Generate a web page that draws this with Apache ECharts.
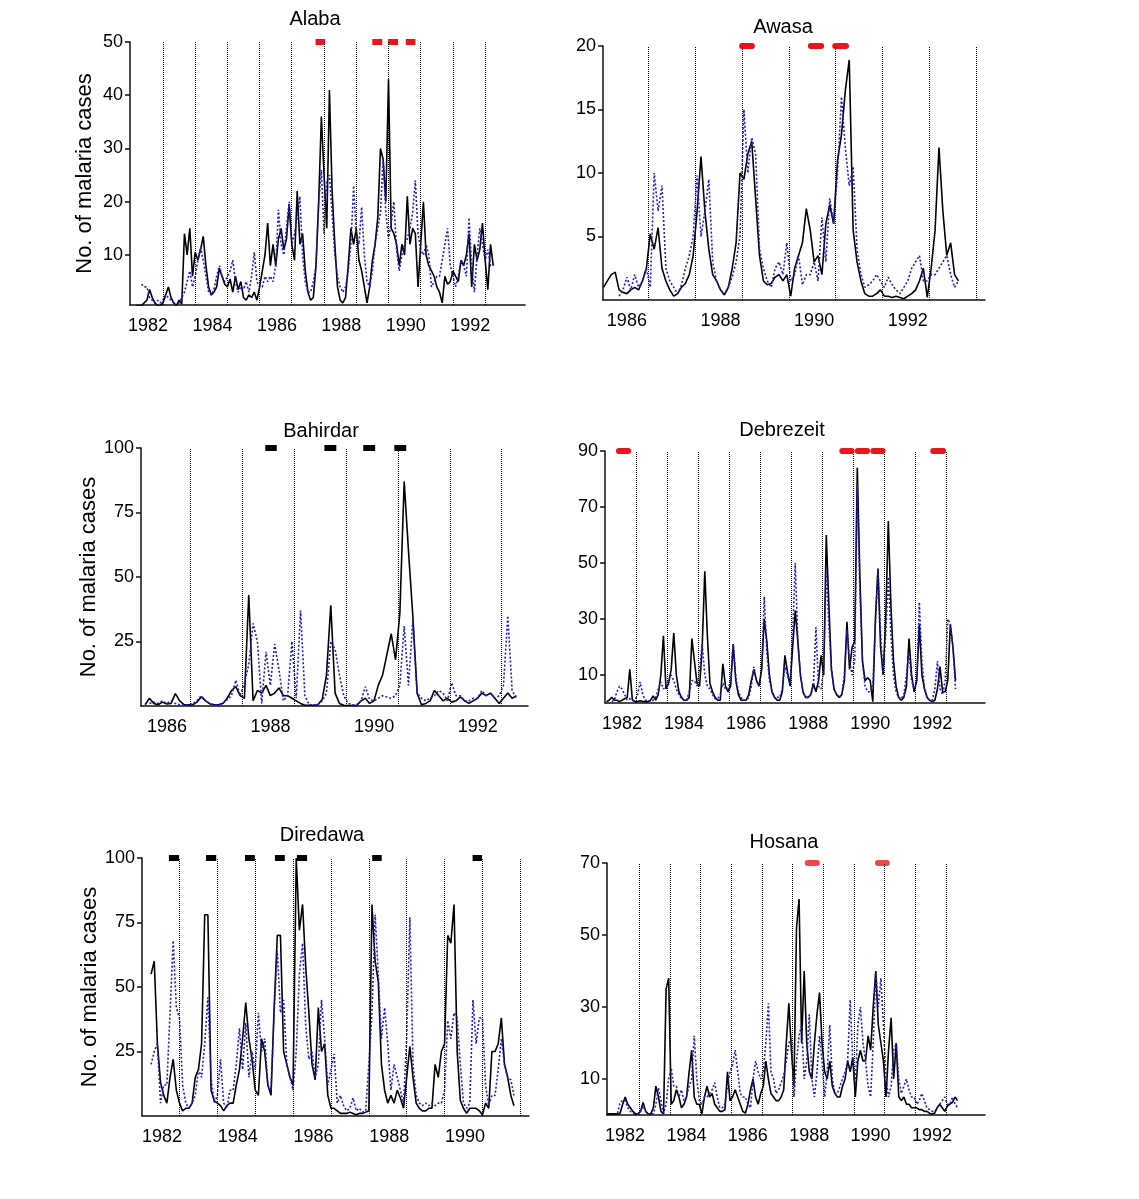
<!DOCTYPE html>
<html>
<head>
<meta charset="utf-8">
<script src="https://cdn.jsdelivr.net/npm/echarts@6/dist/echarts.min.js"></script>
<style>
  html, body { margin: 0; background: #fff; }
  #chart { width: 1139px; height: 1199px; }
</style>
</head>
<body>
<div id="chart"></div>
<script>
// monthly series, observed (black) and predicted (blue dotted)
var STEP = 1 / 12;

var alabaStart = 1981.63;
var alabaObs = [0.5,0.5,0.5,1,1.5, 3.5,2,1,0.5,0.5, 1,2.5,4,2,1, 0.5,1.5,0.8,14,10,
  15,6,10.5,9,11, 13.5,8,4,2.5,3, 4,7.5,6,4.5,4, 5.5,3,6,3.5,5,
  2,1.5,2.5,2,3, 1.5,4,7,10,16, 8,12,8,13,15, 11,13,19.5,12,9,
  22,12,14,7,3, 1.5,2,8,20,36, 25,15,41,22,12, 4,1.5,1,2,8,
  15,12,15,9,7, 4,1,4,9,12, 17,30,28,20,43, 15,14,12,8,12,
  10,21,12,15,14, 4,12,20,10,8, 7,6,4,3,1, 6,4.5,5,7,6,
  5,9,8,10,14, 4,12,9,11,16, 9,3.5,12,8];
var alabaPred = [null,null,4.5,4,4, 2,1.5,1,1.5,1, 1.5,2.5,2,1.5,1, 0.5,1,2,3,5,
  7,4,6,9,11.5, 9,6,3,2.5,3.5, 6,8,6,5,6, 7,9,5,3,4,
  3.5,5,3,6,10.5, 5,4,4,6,5, 6,5,8,18.5,12, 10,15,20,12,14,
  17,21,10,5,3, 3,5,8,20,26, 14,24,25,18,10, 6,4,3,4,7,
  12,23,14,12,19, 10,5,4,7,12, 15,18,28,18,13, 16,20,11,7,10,
  12,13,15,18,24, 14,11,10,12,10, 4,5,6,6,9, 12,15,8,6,4,
  6,9,8,6,17, 8,3,10,15,12, 9,11,8,8];
var alabaEpi = [[1987.2, 1987.5], [1988.96, 1989.27], [1989.45, 1989.76], [1990.0, 1990.3]];
var alabaTicks = [10, 20, 30, 40, 50];

var awasaStart = 1985.5;
var awasaObs = [1.0,1.5,2.0,2.2,0.8, 0.6,0.5,0.8,1.0,0.8, 1.5,2.5,5.2,4.0,5.7, 2.5,1.5,0.8,0.3,0.5,
  1.0,1.3,2.0,3.5,7.0, 11.3,7.0,4.0,2.0,1.5, 0.8,0.4,1.0,2.5,4.5, 10.0,9.5,11.5,12.5,8.0,
  3.5,1.5,1.2,1.3,1.8, 2.0,1.5,2.0,0.3,2.5, 3.5,4.5,7.2,5.5,3.0, 3.5,2.0,6.0,7.5,6.0,
  11.0,13.0,16.5,18.9,5.5, 3.0,1.5,0.5,0.3,0.3, 0.5,0.8,0.3,0.3,0.2, 0.3,0.2,0.1,0.3,0.5,
  0.8,1.5,2.5,0.2,2.5, 5.5,12.0,7.0,3.5,4.5, 2.0,1.5];
var awasaPred = [null,null,null,null,0.3, 0.8,1.8,0.8,2.0,1.0, 1.5,2.5,1.0,10.0,7.0, 9.0,2.5,1.5,1.0,0.5,
  1.2,2.5,3.5,5.0,9.8, 5.0,7.0,9.5,3.0,1.5, 0.8,0.5,1.0,1.8,3.0, 5.0,15.0,10.0,12.8,11.5,
  4.0,2.5,1.5,1.0,2.5, 3.0,2.0,4.5,1.5,2.0, 3.5,1.2,2.0,2.0,3.0, 1.5,6.5,3.0,8.0,6.0,
  10.0,16.0,12.0,9.0,10.5, 4.0,2.0,1.0,1.2,1.5, 2.0,1.5,1.0,1.8,1.2, 0.8,0.5,1.0,1.5,2.5,
  3.0,3.5,1.5,1.5,2.0, 2.0,2.5,3.0,3.5,2.0, 1.0,1.5];
var awasaEpi = [[1988.46, 1988.67], [1989.93, 1990.15], [1990.45, 1990.68]];
var awasaTicks = [5, 10, 15, 20];

var bahirdarStart = 1985.58;
var bahirdarObs = [0.5,3,1,0.5,1.5, 0.8,1,4.8,2,0.5, 0.5,0.5,1.5,3.5,2, 0.8,0.5,0.5,1,3,
  6,7.5,4,3,43, 2,6,5,8,4, 5,7,4,4,3, 2,1,0.3,0.3,0.3,
  0.5,2.5,12,39,5, 1,0.3,0.2,0.2,0.2, 2,3,1,2,8, 12,20,28,18,36,
  87,60,35,5,0.5, 1,2,6,4,2, 3,1.5,2,3.5,2, 1,2,3,5,4,
  5,3,1,3,5, 3,4];
var bahirdarPred = [null,1,1.5,1,2, 1,2,1,0.5,0.5, 0.5,0.8,2,4,2, 1,0.5,0.5,1,2.5,
  4,10,4,9,16, 32,25,1,21,8, 24,14,2,4,25, 3,37,4,0.5,0.5,
  0.5,2,5,25,22, 12,4,1,0.5,0.5, 2,7.5,2.5,2,3, 4,3.5,3,4,8,
  31,8,33,5,3, 2,3,4,6,5, 2,9,4,4,2, 2,3,3,6,4,
  5,3,4,8,35, 6,3];
var bahirdarEpi = [[1987.9, 1988.12], [1989.04, 1989.27], [1989.79, 1990.02], [1990.39, 1990.62]];
var bahirdarTicks = [25, 50, 75, 100];

var debrezeitStart = 1981.5;
var debrezeitObs = [0.5,1,2,1,1, 0.5,1,1.5,2,12, 1,0.5,0.5,0.8,0.5, 0.5,0.5,1,2.5,1,
  3,10,24,5,7, 12,25,10,4,2, 1,1,2,23,15, 7,6,20,47,24,
  7,4,2,1,1, 14,6,4,6,21, 8,3,1,1,1, 3,8,12,8,6,
  12,30,22,10,4, 2,1,1,4,17, 11,6,20,33,22, 10,4,2,2,3,
  7,4,8,17,10, 60,35,12,5,3, 2,3,8,29,12, 20,22,84,45,15,
  8,9,8,0.5,30, 48,20,10,30,65, 35,15,6,2,1, 2,6,23,10,4,
  8,28,10,5,2, 1,0.5,1,5,13, 4,4,8,28,20, 8];
var debrezeitPred = [null,null,0.5,1,4, 6,5,3,1,1.5, 1,1,3,7.5,3, 1,1,0.5,1,2,
  5,7.5,5,6,8, 10,8,5,3,1.5, 1,1,4,8,8, 6,12,21,10,6,
  5,3,1.5,1.5,3, 7,5,5,8,21, 9,4,2,1,1, 2,6,13,8,6,
  12,38,18,8,4, 2,2,2,5,13, 10,7,25,50,22, 10,4,2,2,3,
  6,27,6,5,12, 48,28,12,5,3, 2,3,10,26,15, 10,15,78,40,15,
  6,4,4,6,28, 48,25,10,25,45, 25,10,4,2,1.5, 3,10,18,8,5,
  8,36,15,5,2, 1,1,5,15,5, 3,8,30,28,20, 5];
var debrezeitEpi = [[1981.9, 1982.2], [1989.1, 1989.4], [1989.6, 1989.9], [1990.1, 1990.4], [1992.03, 1992.35]];
var debrezeitTicks = [10, 30, 50, 70, 90];

var diredawaStart = 1981.71;
var diredawaObs = [55,60,28,13,8, 5,15,22,10,5, 2,3,3,5,15, 18,28,78,78,10,
  6,5,4,2,4, 5,5,12,18,30, 44,30,22,10,8, 30,25,12,8,42,
  70,70,25,20,15, 12,100,72,82,58, 40,20,14,42,25, 28,8,3,3,2,
  1,1,1,1.5,1, 0.5,1,1,1.5,2, 82,60,52,20,10, 5,8,5,10,7,
  3,15,27,15,5, 3,2,2,3,3, 20,15,25,28,70, 67,82,25,6,3,
  1,3,3,3,2, 0.5,5,3,25,25, 28,38,20,15,8, 4];
var diredawaPred = [20,25,28,5,12, 12,40,68,42,38, 12,5,3,5,8, 18,15,28,46,15,
  5,8,22,5,3, 10,10,20,34,18, 36,15,25,18,40, 25,30,12,10,40,
  64,40,45,20,15, 10,25,55,67,35, 22,25,15,20,45, 30,12,18,24,5,
  8,4,2,3,7, 2,3,1.5,2,20, 40,78,55,30,42, 28,10,20,15,10,
  5,30,77,20,8, 5,4,5,4,5, 4,5,5,10,37, 30,40,38,20,5,
  3,5,45,28,38, 38,12,4,8,8, 18,30,20,15,14, 8];
var diredawaEpi = [[1982.18, 1982.45], [1983.16, 1983.43], [1984.19, 1984.45], [1984.98, 1985.24],
  [1985.56, 1985.83], [1987.55, 1987.8], [1990.2, 1990.45]];
var diredawaTicks = [25, 50, 75, 100];

var hosanaStart = 1981.42;
var hosanaObs = [0.3,0.3,0.3,0.3,0.3, 0.5,3,5,3,2, 1,0.3,0.3,1,3.5, 1,0.3,0.3,2,8,
  5,1,0.3,35,38, 3,4,7,5,2, 3,5,12,18,5, 3,3,0.3,5,8,
  5,6,3,2,1, 1,1.5,12,4,5, 7,5,3,1,0.5, 3,7,10,5,3,
  6,8,15,10,6, 5,4,4,5,7, 20,31,18,8,52, 60,20,40,20,12,
  10,20,28,34,20, 12,10,15,8,6, 5,5,8,10,15, 12,16,5,15,18,
  15,15,22,18,30, 40,25,20,15,5, 18,27,10,20,5, 4,5,3,3,2,
  2,2,1.5,1.5,1, 1,0.5,0.3,0.5,2, 3,2,1,2.5,3, 3.5,5,4];
var hosanaPred = [null,null,null,null,0.5, 3.5,4,4,2,1, 0.5,0.3,0.3,1,2.5, 1,0.3,0.3,0.3,3,
  7.5,4,0.5,3,10, 13,8,8,5,7, 4,5,8,10,22, 10,4,3,5,5,
  6,7,9,5,2, 2,3,8,12,14, 18,12,6,5,5, 3,2,10,15,12,
  10,12,20,31,12, 10,6,7,9,11, 15,20,21,5,15, 22,25,10,15,28,
  10,5,12,22,15, 5,12,25,10,6, 6,8,10,12,15, 32,15,8,25,30,
  20,15,8,5,20, 40,30,38,25,10, 5,8,18,20,10, 6,8,10,7,5,
  5,3,4,6,4, 2,1.5,1,1,2, 3,4,5,3,3, 5,3,2];
var hosanaEpi = [[1987.95, 1988.25], [1990.24, 1990.53]];
var hosanaTicks = [10, 30, 50, 70];

// dotted lines mark the start of each season (mid-year)
var SEASON = 0.46;
function yearsFrom(a, b) { var r = []; for (var y = a; y <= b; y++) r.push(y); return r; }

var FONT = '"Liberation Sans", Arial, Helvetica, sans-serif';
var RED = '#e8141e';

var panels = [
  { title: 'Alaba', start: alabaStart, obs: alabaObs, pred: alabaPred, epi: alabaEpi, epiColor: RED, cap: 'butt',
    ticks: alabaTicks, ymin: 0.6, ymax: 50, xmin: 1981.44, xmax: 1993.7, labels: [1982, 1984, 1986, 1988, 1990, 1992],
    seasons: yearsFrom(1982, 1992), grid: { left: 130, top: 42, width: 395, height: 263 }, tx: 315, ty: 19, yName: true },
  { title: 'Awasa', start: awasaStart, obs: awasaObs, pred: awasaPred, epi: awasaEpi, epiColor: RED, cap: 'round',
    ticks: awasaTicks, ymin: 0, ymax: 20, xmin: 1985.49, xmax: 1993.65, labels: [1986, 1988, 1990, 1992],
    seasons: yearsFrom(1986, 1993), grid: { left: 603, top: 46, width: 382, height: 254 }, tx: 783, ty: 27 },
  { title: 'Bahirdar', start: bahirdarStart, obs: bahirdarObs, pred: bahirdarPred, epi: bahirdarEpi, epiColor: '#000', cap: 'butt',
    ticks: bahirdarTicks, ymin: 0, ymax: 100, xmin: 1985.5, xmax: 1992.97, labels: [1986, 1988, 1990, 1992],
    seasons: yearsFrom(1986, 1992), grid: { left: 141, top: 448, width: 387, height: 258 }, tx: 321, ty: 431, yName: true },
  { title: 'Debrezeit', start: debrezeitStart, obs: debrezeitObs, pred: debrezeitPred, epi: debrezeitEpi, epiColor: RED, cap: 'round',
    ticks: debrezeitTicks, ymin: 0, ymax: 90, xmin: 1981.45, xmax: 1993.7, labels: [1982, 1984, 1986, 1988, 1990, 1992],
    seasons: yearsFrom(1982, 1992), grid: { left: 605, top: 451, width: 380, height: 252 }, tx: 782, ty: 430 },
  { title: 'Diredawa', start: diredawaStart, obs: diredawaObs, pred: diredawaPred, epi: diredawaEpi, epiColor: '#000', cap: 'butt',
    ticks: diredawaTicks, ymin: 0, ymax: 100, xmin: 1981.47, xmax: 1991.69, labels: [1982, 1984, 1986, 1988, 1990],
    seasons: yearsFrom(1982, 1991), grid: { left: 142, top: 858, width: 387, height: 258 }, tx: 322, ty: 835, yName: true },
  { title: 'Hosana', start: hosanaStart, obs: hosanaObs, pred: hosanaPred, epi: hosanaEpi, epiColor: '#ee4848', cap: 'round',
    ticks: hosanaTicks, ymin: 0, ymax: 70, xmin: 1981.41, xmax: 1993.73, labels: [1982, 1984, 1986, 1988, 1990, 1992],
    seasons: yearsFrom(1982, 1992), grid: { left: 607, top: 863, width: 378, height: 252 }, tx: 784, ty: 842 }
];

function toPoints(start, vals) {
  var out = [];
  vals.forEach(function (v, i) { if (v != null) out.push([start + i * STEP, v]); });
  return out;
}

var axisLine = { show: true, lineStyle: { color: '#111', width: 1.5 } };
var option = { animation: false, backgroundColor: '#fff', grid: [], xAxis: [], yAxis: [], series: [], graphic: [] };

panels.forEach(function (p, k) {
  option.grid.push(p.grid);
  option.xAxis.push({
    gridIndex: k, type: 'value', min: p.xmin, max: p.xmax,
    axisLine: axisLine, axisTick: { show: false }, splitLine: { show: false },
    axisLabel: { customValues: p.labels, formatter: function (v) { return String(Math.round(v)); },
      color: '#000', fontSize: 18, fontFamily: FONT, margin: 12 }
  });
  option.yAxis.push({
    gridIndex: k, type: 'value', min: p.ymin, max: p.ymax,
    axisLine: axisLine, splitLine: { show: false },
    axisTick: { show: true, customValues: p.ticks, length: 5, lineStyle: { color: '#111', width: 1.5 } },
    axisLabel: { customValues: p.ticks, color: '#000', fontSize: 18, fontFamily: FONT, margin: 7 },
    name: p.yName ? 'No. of malaria cases' : '', nameLocation: 'middle', nameGap: 34,
    nameTextStyle: { color: '#000', fontSize: 22, fontFamily: FONT }
  });
  option.series.push({
    type: 'line', xAxisIndex: k, yAxisIndex: k, symbol: 'none', z: 2,
    data: toPoints(p.start, p.obs),
    lineStyle: { color: '#000', width: 1.6 },
    markLine: {
      silent: true, symbol: 'none', label: { show: false },
      lineStyle: { color: '#000', width: 1, type: 'dotted' },
      data: p.seasons.map(function (y) { return { xAxis: y + SEASON }; })
    }
  });
  option.series.push({
    type: 'line', xAxisIndex: k, yAxisIndex: k, symbol: 'none', z: 3,
    data: toPoints(p.start, p.pred),
    lineStyle: { color: '#1c1cd0', width: 1.6, type: [2, 2] }
  });
  p.epi.forEach(function (e) {
    option.series.push({
      type: 'line', xAxisIndex: k, yAxisIndex: k, symbol: 'none', z: 4, clip: false,
      data: [[e[0], p.ymax], [e[1], p.ymax]],
      lineStyle: { color: p.epiColor, width: 6, cap: p.cap }
    });
  });
  option.graphic.push({
    type: 'text', x: p.tx, y: p.ty,
    style: { text: p.title, fill: '#000', font: '20px ' + FONT, textAlign: 'center', textVerticalAlign: 'middle' }
  });
});

var chart = echarts.init(document.getElementById('chart'), null, { renderer: 'canvas' });
chart.setOption(option);
</script>
</body>
</html>
